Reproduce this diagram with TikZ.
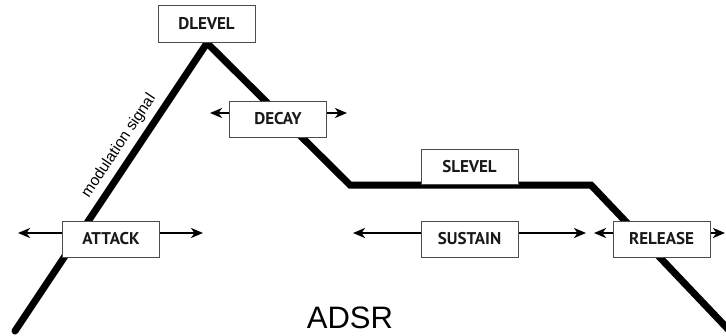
\documentclass[tikz,border=0pt]{standalone}
\usepackage{fontspec}
\setmainfont{Liberation Sans}
\newfontfamily\boxfont{PT Sans}
\usetikzlibrary{arrows.meta}
\begin{document}
\begin{tikzpicture}[x=1pt,y=-1pt,
  lbl/.style={draw=black!70, line width=1pt, fill=white, minimum width=97pt, minimum height=36pt, inner sep=0pt, text=black!90, font=\boxfont\bfseries\fontsize{17}{17}\selectfont},
  arr/.style={line width=2.2pt, -{Stealth[length=12pt,width=10pt,inset=3.5pt]}},
  env/.style={line width=7pt, line join=miter, line cap=round}]
\useasboundingbox (0,0) rectangle (726,335);
\begin{scope}
\clip (0,0) rectangle (726,335);
\coordinate (p0) at (15,331);
\coordinate (p1) at (207,43);
\coordinate (p2) at (350,185);
\coordinate (p3) at (591,185);
\coordinate (p4) at (745,347);
\draw[env] (p0) -- (p1) -- (p2) -- (p3) -- (p4);

\node[lbl, minimum height=37pt] (dlevel) at (206.5,23.5) {DLEVEL};
\node[lbl] (decay) at (278,119) {DECAY};
\node[lbl, minimum height=35pt] (slevel) at (469.5,166.5) {SLEVEL};
\node[lbl] (attack) at (111,239) {ATTACK};
\node[lbl] (sustain) at (469.5,239) {SUSTAIN};
\node[lbl] (release) at (661.5,239) {RELEASE};

\coordinate (aL) at (18,233);
\coordinate (aR) at (203,233);
\coordinate (dL) at (210,113);
\coordinate (dR) at (347,113);
\coordinate (sL) at (353,233);
\coordinate (sR) at (586,233);
\coordinate (rL) at (594,233);
\coordinate (rR) at (725,233);

\draw[arr] (attack.west |- aL) -- (aL);
\draw[arr] (attack.east |- aR) -- (aR);
\draw[arr] (decay.west |- dL) -- (dL);
\draw[arr] (decay.east |- dR) -- (dR);
\draw[arr] (sustain.west |- sL) -- (sL);
\draw[arr] (sustain.east |- sR) -- (sR);
\draw[arr] (release.west |- rL) -- (rL);
\draw[arr] (release.east |- rR) -- (rR);

\node[rotate=56.3, font=\fontsize{15.5}{15.5}\selectfont, inner sep=0pt] (mod) at (119,146) {modulation signal};
\node[font=\fontsize{31}{31}\selectfont, inner sep=0pt] (title) at (350,318) {ADSR};
\end{scope}
\end{tikzpicture}
\end{document}
